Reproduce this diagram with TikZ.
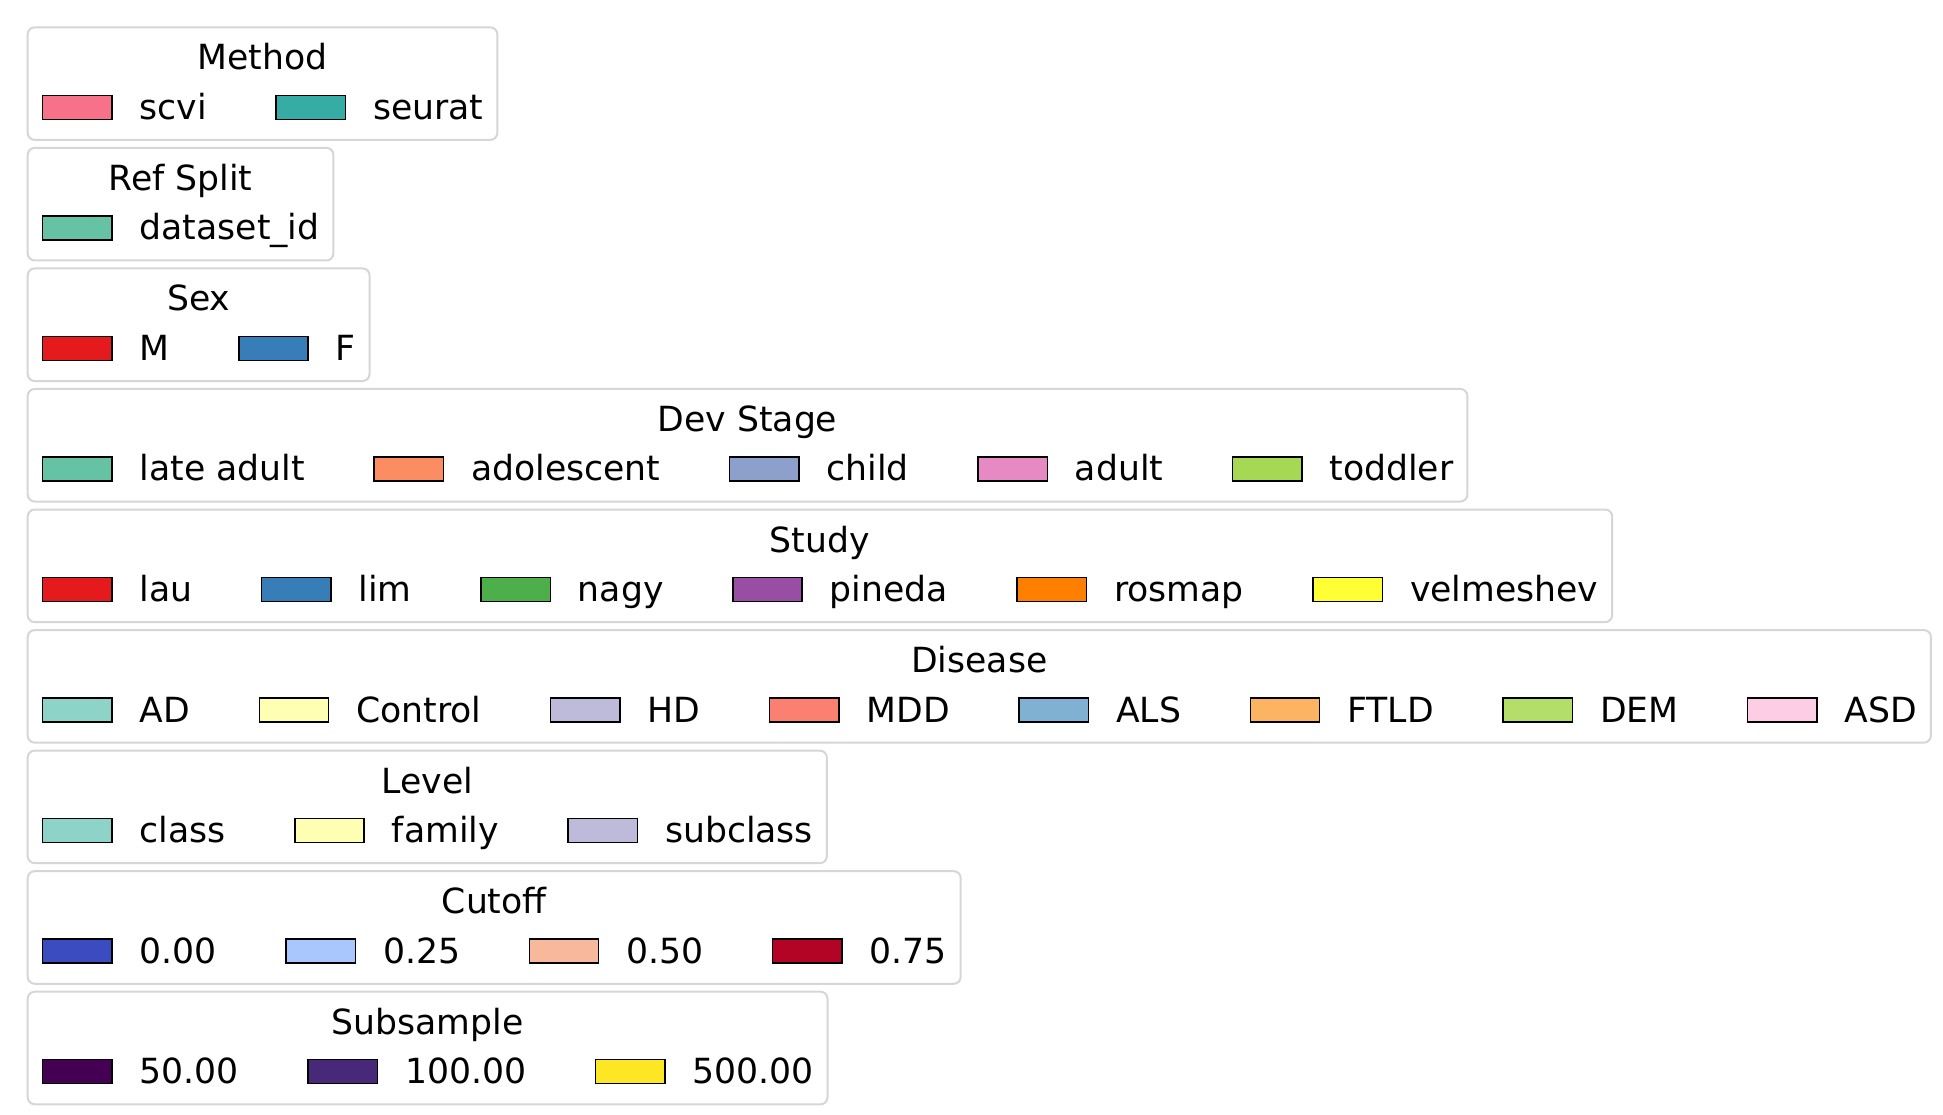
\documentclass[tikz,border=0pt]{standalone}
\usepackage{fontspec}
\setmainfont{DejaVu Sans}
\usetikzlibrary{calc}
\definecolor{mA}{HTML}{F77189}\definecolor{mB}{HTML}{36ADA4}
\definecolor{sA}{HTML}{66C2A5}\definecolor{sB}{HTML}{FC8D62}\definecolor{sC}{HTML}{8DA0CB}\definecolor{sD}{HTML}{E78AC3}\definecolor{sE}{HTML}{A6D854}
\definecolor{oA}{HTML}{E41A1C}\definecolor{oB}{HTML}{377EB8}\definecolor{oC}{HTML}{4DAF4A}\definecolor{oD}{HTML}{984EA3}\definecolor{oE}{HTML}{FF7F00}\definecolor{oF}{HTML}{FFFF33}
\definecolor{tA}{HTML}{8DD3C7}\definecolor{tB}{HTML}{FFFFB3}\definecolor{tC}{HTML}{BEBADA}\definecolor{tD}{HTML}{FB8072}\definecolor{tE}{HTML}{80B1D3}\definecolor{tF}{HTML}{FDB462}\definecolor{tG}{HTML}{B3DE69}\definecolor{tH}{HTML}{FCCDE5}
\definecolor{cA}{HTML}{3B4CC0}\definecolor{cB}{HTML}{AAC7FD}\definecolor{cC}{HTML}{F7B89C}\definecolor{cD}{HTML}{B40426}
\definecolor{vA}{HTML}{440154}\definecolor{vB}{HTML}{482878}\definecolor{vC}{HTML}{FDE725}
\definecolor{frameedge}{HTML}{D6D6D6}
\tikzset{
  patch/.style={draw=black, line width=1.4pt, minimum width=69.27pt, minimum height=24pt, inner sep=0pt, outer sep=0pt, anchor=west},
  lbl/.style={font=\fontsize{34.635}{40}\selectfont, inner sep=0pt, outer sep=0pt, anchor=base west},
  ttl/.style={lbl, anchor=base},
  legframe/.style={draw=frameedge, line width=2pt, rounded corners=7pt},
}
% #1 prefix, #2 index, #3 title, #4 number of entries, #5 list colour/label
\newcommand\legbox[5]{%
  \pgfmathsetmacro\ltop{27.3+120.55*#2}%
  \pgfmathsetmacro\lbase{\ltop+92}%
  \pgfmathsetmacro\lbot{\ltop+112.6}%
  \pgfmathsetmacro\lttl{\ltop+42.5}%
  \node[lbl] (#1t0) at (-27.57,\lbase) {};
  \foreach \col/\lab [count=\i] in {#5} {
    \pgfmathtruncatemacro\prev{\i-1}
    \node[patch, fill=\col] (#1p\i) at ($(#1t\prev.base east)+(69.27,-12)$) {};
    \node[lbl] (#1t\i) at ($(#1p\i.east)+(27.7,12)$) {\lab};
  }
  \coordinate (#1r) at ([xshift=13.85pt]#1t#4.base east);
  \coordinate (#1tl) at (27.7,\ltop);
  \coordinate (#1br) at (#1r |- 0,\lbot);
  \draw[legframe] (#1tl) rectangle (#1br);
  \coordinate (#1L) at (27.7,\lttl);
  \coordinate (#1R) at (#1r |- #1L);
  \node[ttl] (#1h) at ($(#1L)!0.5!(#1R)$) {#3};
}
\begin{document}
\begin{tikzpicture}[x=1pt,y=-1pt]
\useasboundingbox[fill=white] (0,0) rectangle (1943,1114);
\legbox{Ma}{0}{Method}{2}{mA/scvi, mB/seurat}
\legbox{Rs}{1}{Ref Split}{1}{sA/dataset\_id}
\legbox{Sx}{2}{Sex}{2}{oA/M, oB/F}
\legbox{Dv}{3}{Dev Stage}{5}{sA/late adult, sB/adolescent, sC/child, sD/adult, sE/toddler}
\legbox{St}{4}{Study}{6}{oA/lau, oB/lim, oC/nagy, oD/pineda, oE/rosmap, oF/velmeshev}
\legbox{Di}{5}{Disease}{8}{tA/AD, tB/Control, tC/HD, tD/MDD, tE/ALS, tF/FTLD, tG/DEM, tH/ASD}
\legbox{Lv}{6}{Level}{3}{tA/class, tB/family, tC/subclass}
\legbox{Cu}{7}{Cutoff}{4}{cA/0.00, cB/0.25, cC/0.50, cD/0.75}
\legbox{Su}{8}{Subsample}{3}{vA/50.00, vB/100.00, vC/500.00}
\end{tikzpicture}
\end{document}
